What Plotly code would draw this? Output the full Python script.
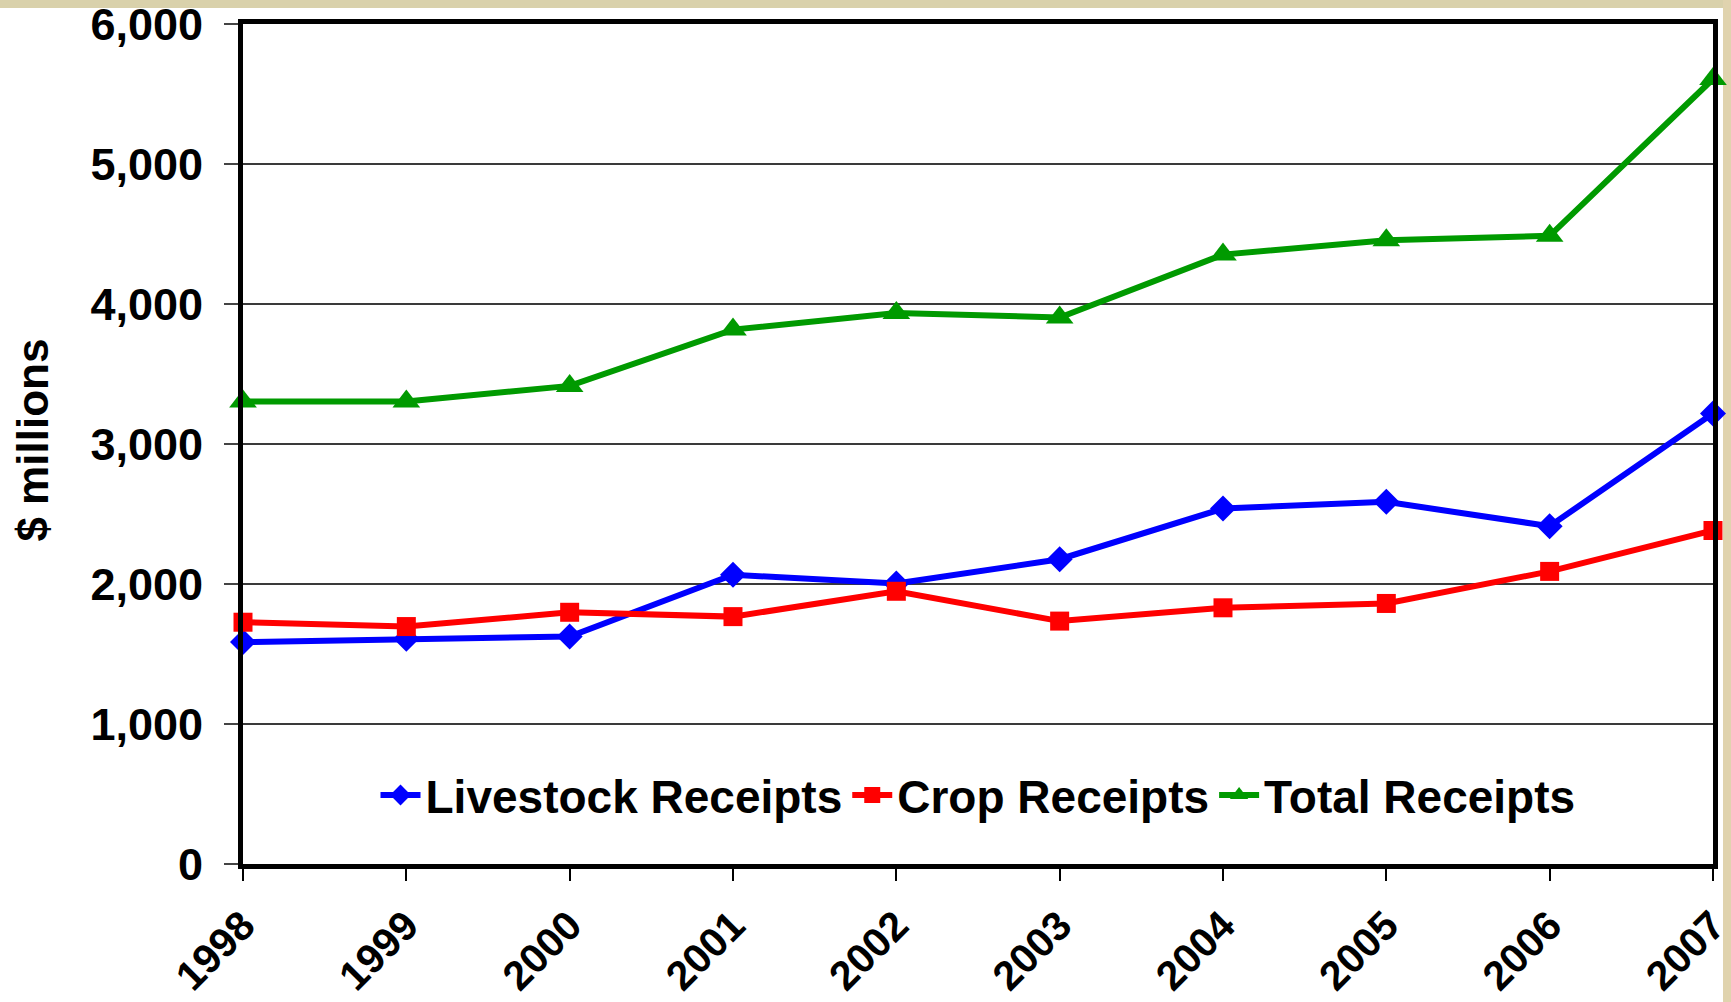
import plotly.graph_objs as go

# data ($ millions)
years = [1998, 1999, 2000, 2001, 2002, 2003, 2004, 2005, 2006, 2007]
livestock = [1585, 1609, 1625, 2066, 2003, 2177, 2539, 2587, 2413, 3218]
crop = [1727, 1696, 1798, 1767, 1948, 1735, 1830, 1861, 2090, 2382]
total = [3304, 3304, 3415, 3817, 3935, 3904, 4353, 4456, 4487, 5607]

series = [
    ('Livestock Receipts', livestock, '#0000ff', 'diamond', 20),
    ('Crop Receipts', crop, '#ff0000', 'square', 19),
    ('Total Receipts', total, '#009a00', 'triangle-up', 24),
]

font_family = 'Liberation Sans, Arial, sans-serif'

data = []
for name, vals, color, symbol, size in series:
    trace = go.Scatter(
        name=name,
        x=years,
        y=vals,
        mode='lines+markers',
        line=dict(color=color, width=6),
        marker=dict(symbol=symbol, size=size, color=color),
        cliponaxis=False,
    )
    data.append(trace)

layout = go.Layout(
    width=1731, height=1002,
    margin=dict(l=243, r=18, t=24, b=138),
    paper_bgcolor='white',
    plot_bgcolor='white',
    font=dict(family=font_family, color='black'),
    xaxis=dict(
        range=[1998, 2007.0001],
        tickvals=years,
        ticktext=[str(y) for y in years],
        tickangle=-45,
        tickfont=dict(size=41, weight='bold'),
        ticks='outside', ticklen=12, tickwidth=2, tickcolor='black',
        ticklabelstandoff=4,
        ticklabeloverflow='allow',
        showgrid=False,
        showline=True, linecolor='black', linewidth=5, mirror=True,
        zeroline=False,
        automargin=False,
    ),
    yaxis=dict(
        range=[0, 6000],
        dtick=1000,
        tickformat=',',
        tickfont=dict(size=45, weight='bold'),
        ticks='outside', ticklen=14, tickwidth=2, tickcolor='#444',
        ticklabelstandoff=12,
        ticklabeloverflow='allow',
        showgrid=True, gridcolor='#3a3a3a', gridwidth=1.6,
        showline=True, linecolor='black', linewidth=5, mirror=True,
        zeroline=False,
        automargin=False,
    ),
    legend=dict(
        orientation='h',
        x=0.5, xanchor='center',
        y=0.082, yanchor='middle',
        bgcolor='rgba(0,0,0,0)',
        font=dict(size=46, weight='bold'),
        itemwidth=40,
    ),
    showlegend=True,
    annotations=[
        dict(text='$ millions', xref='paper', yref='paper', x=-0.143, y=0.505,
             xanchor='center', yanchor='middle', textangle=-90, showarrow=False,
             font=dict(size=44, weight='bold')),
    ],
    shapes=[
        dict(type='rect', xref='paper', yref='paper', x0=-0.3, x1=1.1, y0=1.019, y1=1.1,
             fillcolor='#d9d1ab', line=dict(width=0), layer='below'),
        dict(type='rect', xref='paper', yref='paper', x0=1.0068, x1=1.1, y0=-0.2, y1=1.1,
             fillcolor='#e0d3ae', line=dict(width=0), layer='below'),
    ],
)

fig = go.Figure(data=data, layout=layout)
# drop the page's default body margin so the figure sits at the window corner
fig.write_html('out.html', config={'displayModeBar': False},
               post_script="document.body.style.margin='0';")
